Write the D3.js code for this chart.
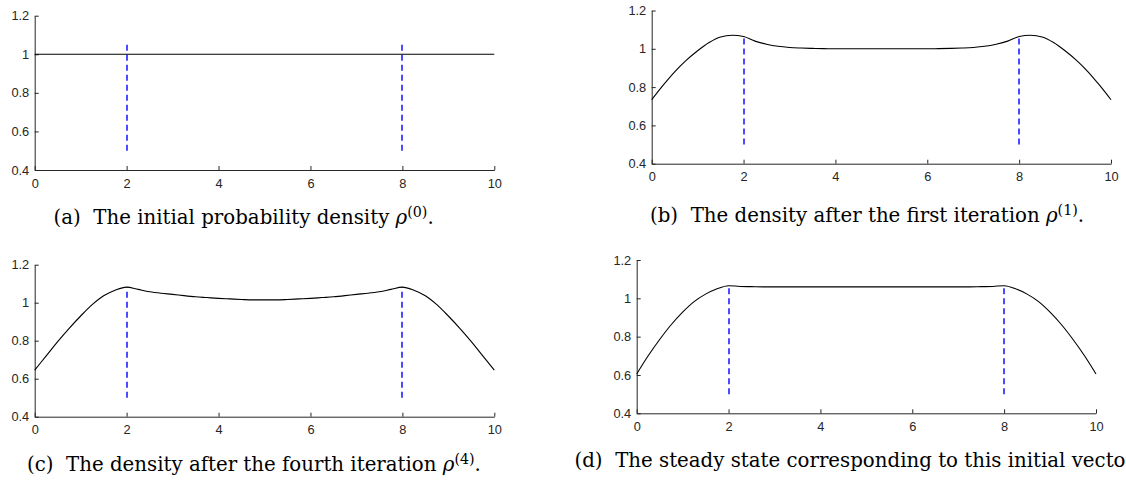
<!DOCTYPE html>
<html>
<head>
<meta charset="utf-8">
<script src="https://cdn.jsdelivr.net/npm/d3@7"></script>
<style>
  html, body { margin: 0; padding: 0; background: #fff; }
  svg { display: block; }
</style>
</head>
<body>
<svg id="fig" width="1126" height="483"></svg>
<script>
// Sample positions along the interval [0, 10]
const xGrid = d3.range(0, 10.001, 0.25);

// (a) initial density: constant 1
const rho0X = [0, 10];
const rho0 = [1, 1];

// (b) density after the first iteration
const rho1 = [0.734, 0.81, 0.88, 0.94, 0.99, 1.033, 1.062, 1.071, 1.064,
  1.04, 1.024, 1.013, 1.007, 1.004, 1.002, 1.001, 1.0, 1.0, 1.0, 1.0,
  1.0, 1.0, 1.0, 1.0, 1.0, 1.001, 1.002, 1.004, 1.007, 1.013, 1.024, 1.04,
  1.064, 1.071, 1.062, 1.033, 0.99, 0.94, 0.88, 0.81, 0.734];

// (c) density after the fourth iteration
const rho4 = [0.645, 0.72, 0.795, 0.865, 0.93, 0.99, 1.037, 1.066, 1.082,
  1.07, 1.058, 1.05, 1.044, 1.037, 1.031, 1.027, 1.023, 1.02, 1.017, 1.015,
  1.015, 1.015, 1.017, 1.02, 1.023, 1.027, 1.031, 1.037, 1.044, 1.05, 1.058, 1.07,
  1.082, 1.066, 1.037, 0.99, 0.93, 0.865, 0.795, 0.72, 0.645];

// (d) steady state
const rhoSteady = [0.605, 0.70, 0.785, 0.862, 0.928, 0.983, 1.022, 1.05, 1.066,
  1.062, 1.061, 1.06, 1.06, 1.06, 1.06, 1.06, 1.06, 1.06, 1.06, 1.06,
  1.06, 1.06, 1.06, 1.06, 1.06, 1.06, 1.06, 1.06, 1.06, 1.06, 1.061, 1.062,
  1.066, 1.05, 1.022, 0.983, 0.928, 0.862, 0.785, 0.70, 0.605];

// Dashed markers at the interval boundaries
const markerX = [2, 8];
const markerBottom = 0.5;
const markerTops = [1.066, 1.064, 1.082, 1.066];

// Axis ticks
const xTicks = [0, 2, 4, 6, 8, 10];
const yTicks = [0.4, 0.6, 0.8, 1, 1.2];
const xDomain = [0, 10];
const yDomain = [0.4, 1.2];

// Captions
const captionTags = ["(a)", "(b)", "(c)", "(d)"];
const captionTexts = [
  "The initial probability density ",
  "The density after the first iteration ",
  "The density after the fourth iteration ",
  "The steady state corresponding to this initial vector."
];
const captionSups = ["(0)", "(1)", "(4)", null];

const panels = [
  { xs: rho0X, ys: rho0, box: [34.7, 494.3, 15.7, 170], cap: [53.5, 224] },
  { xs: xGrid, ys: rho1, box: [651.7, 1111, 10.5, 163.7], cap: [650, 222] },
  { xs: xGrid, ys: rho4, box: [34.7, 494.3, 264.7, 416.7], cap: [27, 471] },
  { xs: xGrid, ys: rhoSteady, box: [636.7, 1096, 260, 413.3], cap: [574.5, 467] }
];
// caption spans used to size the caption font (a, b, c)
const captionSpans = [391, 448, 454];

const svg = d3.select("#fig");
const axisColor = "#262626";
const tickFont = "'Liberation Sans', Arial, sans-serif";
const capFont = "'DejaVu Serif', serif";
const capSize = 16;

const captions = [];

panels.forEach((p, i) => {
  const [x0, x1, yT, yB] = p.box;
  const x = d3.scaleLinear().domain(xDomain).range([x0, x1]);
  const y = d3.scaleLinear().domain(yDomain).range([yB, yT]);
  const g = svg.append("g");

  // bottom axis, ticks pointing inward
  const xa = g.append("g").attr("transform", `translate(0,${yB})`)
    .call(d3.axisBottom(x).tickValues(xTicks).tickSizeInner(-4).tickSizeOuter(0)
      .tickPadding(10).tickFormat(d3.format("")));
  // left axis, ticks pointing inward
  const ya = g.append("g").attr("transform", `translate(${x0},0)`)
    .call(d3.axisLeft(y).tickValues(yTicks).tickSizeInner(-4).tickSizeOuter(0)
      .tickPadding(10).tickFormat(d3.format("")));

  [xa, ya].forEach(a => {
    a.attr("font-size", null).attr("font-family", null);
    a.selectAll("path.domain").attr("stroke", axisColor).attr("stroke-width", 1);
    a.selectAll(".tick line").attr("stroke", axisColor).attr("stroke-width", 1);
    a.selectAll(".tick text").attr("fill", axisColor)
      .style("font-family", tickFont).style("font-size", "12.8px");
  });
  xa.selectAll(".tick text").attr("dy", "0.71em").attr("y", 8.5);
  ya.selectAll(".tick text").attr("x", -5.5);

  // dashed boundary markers
  g.selectAll("line.marker").data(markerX).enter().append("line")
    .attr("class", "marker")
    .attr("x1", d => Math.round(x(d))).attr("x2", d => Math.round(x(d)))
    .attr("y1", y(markerBottom)).attr("y2", y(markerTops[i]))
    .attr("stroke", "#0000ff").attr("stroke-width", 1.4)
    .attr("stroke-dasharray", "6,4");

  // density curve
  const line = d3.line().x(d => x(d[0])).y(d => y(d[1])).curve(d3.curveMonotoneX);
  g.append("path")
    .datum(p.xs.map((v, k) => [v, p.ys[k]]))
    .attr("d", line)
    .attr("fill", "none").attr("stroke", "#000").attr("stroke-width", 1.1);

  // caption
  const t = svg.append("text")
    .attr("x", p.cap[0]).attr("y", p.cap[1])
    .attr("fill", "#000")
    .style("font-family", capFont).style("font-size", capSize + "px");
  t.append("tspan").attr("class", "body").text(captionTags[i] + "\u00a0\u00a0" + captionTexts[i]);
  if (captionSups[i]) {
    t.append("tspan").style("font-style", "italic").text("\u03c1");
    t.append("tspan").attr("class", "sup").attr("dy", -7).text(captionSups[i]);
    t.append("tspan").attr("dy", 7).text(".");
  }
  captions.push(t);
});

// Size the caption font so captions (a)-(c) span their columns
const naturalTotal = d3.sum(captions.slice(0, 3), t => t.node().getComputedTextLength());
const fitted = capSize * d3.sum(captionSpans) / naturalTotal;
captions.forEach(t => {
  t.style("font-size", fitted + "px");
  t.selectAll("tspan.sup").style("font-size", (fitted * 0.72) + "px");
});
</script>
</body>
</html>
